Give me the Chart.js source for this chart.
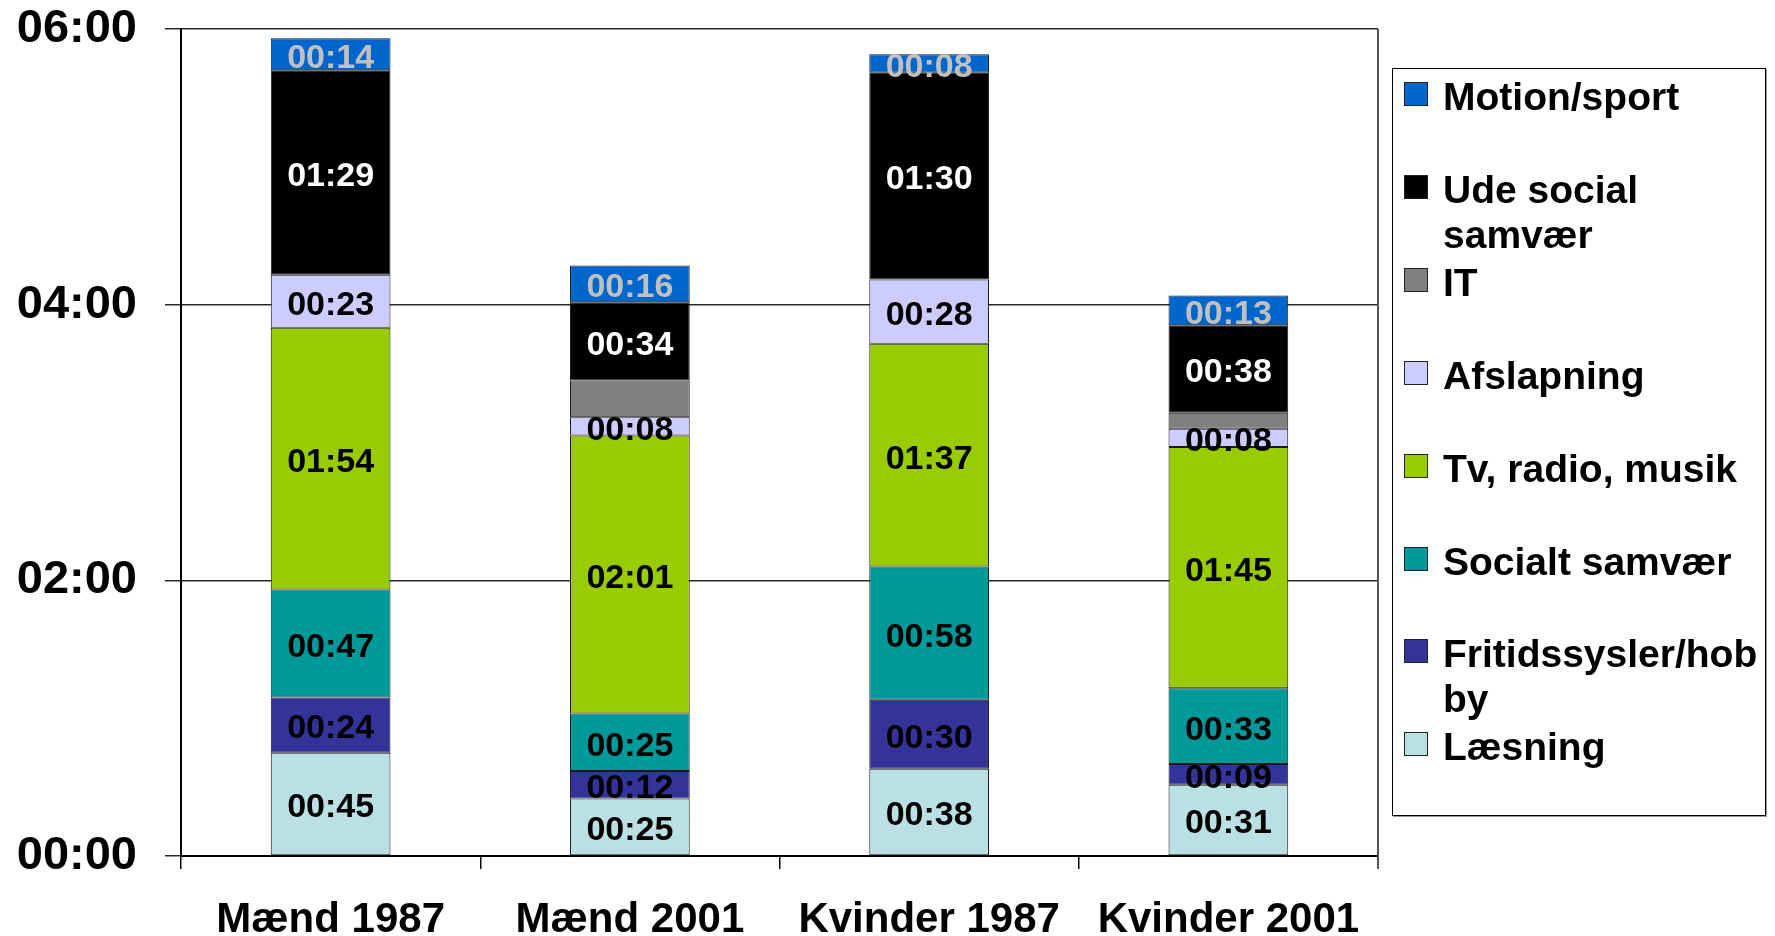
<!DOCTYPE html>
<html lang="da">
<head>
<meta charset="utf-8">
<title>Fritid</title>
<script src="https://cdn.jsdelivr.net/npm/chart.js@4.4.1/dist/chart.umd.min.js"></script>
<style>
    html, body { margin: 0; padding: 0; background: #fff; }
    #ramme { position: relative; width: 1775px; height: 936px; }
    #legende {
        position: absolute; left: 1392px; top: 68px; width: 372px; height: 746px;
        border: 1.5px solid #000; box-shadow: 1px 1px 0 #999;
        font: bold 39px "Liberation Sans", Arial, sans-serif; color: #000;
    }
    .punkt { position: absolute; left: 0; width: 100%; line-height: 45px; }
    .punkt i {
        position: absolute; left: 11px; top: 8px; width: 22px; height: 22px;
        border: 1.5px solid #222;
    }
    .punkt span { position: absolute; left: 50px; top: 0; white-space: nowrap; }
</style>
</head>
<body>
<div id="ramme">
    <canvas id="graficoFritid"></canvas>
    <div id="legende"></div>
</div>
<script>
// minutter pr. dag
const grupper = ['Mænd 1987', 'Mænd 2001', 'Kvinder 1987', 'Kvinder 2001']
const laesning = [45, 25, 38, 31]
const fritidssysler = [24, 12, 30, 9]
const socialtSamvaer = [47, 25, 58, 33]
const tvRadioMusik = [114, 121, 97, 105]
const afslapning = [23, 8, 28, 8]
const it = [0, 16, 0, 7]
const udeSocialSamvaer = [89, 34, 90, 38]
const motionSport = [14, 16, 8, 13]
const yTicks = [0, 120, 240, 360]

const skrift = '"Liberation Sans", Arial, sans-serif'
Chart.defaults.font.family = skrift
Chart.defaults.font.weight = 'bold'
Chart.defaults.color = '#000'

function tilTid(min) {
    let t = Math.floor(min / 60)
    let m = min % 60
    return String(t).padStart(2, '0') + ':' + String(m).padStart(2, '0')
}

function serie(navn, data, farve, tekstFarve, visEtiket = true) {
    return {
        label: navn,
        data: data,
        backgroundColor: farve,
        borderColor: '#1a1a1a',
        borderWidth: 1,
        borderSkipped: false,
        barPercentage: 0.4,
        categoryPercentage: 1,
        tekstFarve: tekstFarve,
        visEtiket: visEtiket
    }
}

const etiketter = {
    id: 'etiketter',
    afterDatasetsDraw(chart) {
        const ctx = chart.ctx
        ctx.save()
        ctx.font = 'bold 34px ' + skrift
        ctx.textAlign = 'center'
        ctx.textBaseline = 'middle'
        chart.data.datasets.forEach((ds, i) => {
            if (!ds.visEtiket) return
            chart.getDatasetMeta(i).data.forEach((bar, j) => {
                if (!ds.data[j]) return
                ctx.fillStyle = ds.tekstFarve
                ctx.fillText(tilTid(ds.data[j]), bar.x, (bar.y + bar.base) / 2 + 4)
            })
        })
        ctx.restore()
    }
}

// højre kant af plotområdet
const hoejreKant = {
    id: 'hoejreKant',
    afterDraw(chart) {
        const a = chart.chartArea
        const ctx = chart.ctx
        ctx.save()
        ctx.strokeStyle = '#555'
        ctx.lineWidth = 2
        ctx.beginPath()
        ctx.moveTo(a.right, a.top)
        ctx.lineTo(a.right, a.bottom + 13)
        ctx.stroke()
        ctx.restore()
    }
}

const graficoFritid = new Chart(document.getElementById('graficoFritid'), {
    type: 'bar',
    data: {
        labels: grupper,
        datasets: [
            serie('Læsning', laesning, '#bbe0e3', '#000'),
            serie('Fritidssysler/hobby', fritidssysler, '#333399', '#000'),
            serie('Socialt samvær', socialtSamvaer, '#009999', '#000'),
            serie('Tv, radio, musik', tvRadioMusik, '#99cc00', '#000'),
            serie('Afslapning', afslapning, '#ccccff', '#000'),
            serie('IT', it, '#808080', '#000', false),
            serie('Ude social samvær', udeSocialSamvaer, '#000000', '#fff'),
            serie('Motion/sport', motionSport, '#0066cc', '#c0c0c0')
        ]
    },
    options: {
        responsive: true,
        maintainAspectRatio: false,
        animation: false,
        layout: { padding: { left: 0, right: 397, top: 0, bottom: 0 } },
        plugins: {
            legend: { display: false },
            tooltip: { enabled: false }
        },
        scales: {
            x: {
                stacked: true,
                afterFit: s => { s.height = 80 },
                grid: { offset: true, drawOnChartArea: false, tickLength: 13, color: '#000', lineWidth: 1.5 },
                border: { color: '#000', width: 2 },
                ticks: { font: { size: 42, weight: 'bold' }, padding: 26, color: '#000' }
            },
            y: {
                stacked: true,
                min: 0,
                max: 360,
                afterFit: s => {
                    s.width = 181
                    s.paddingTop = 29
                    s.paddingBottom = 0
                },
                afterBuildTicks: s => { s.ticks = yTicks.map(v => ({ value: v })) },
                grid: { color: '#2a2a2a', lineWidth: 1.5, tickLength: 16 },
                border: { color: '#000', width: 2 },
                ticks: {
                    font: { size: 47, weight: 'bold' },
                    padding: 28,
                    color: '#000',
                    callback: v => tilTid(v)
                }
            }
        }
    },
    plugins: [etiketter, hoejreKant]
})

// legende, omvendt rækkefølge, med ombrydning som i Excel
function ombryd(tekst, maks, ctx) {
    let linjer = []
    let linje = ''
    tekst.split(' ').forEach(ord => {
        let forsoeg = linje ? linje + ' ' + ord : ord
        if (ctx.measureText(forsoeg).width <= maks) { linje = forsoeg; return }
        if (linje) linjer.push(linje)
        linje = ''
        for (const tegn of ord) {
            if (ctx.measureText(linje + tegn).width > maks && linje) { linjer.push(linje); linje = '' }
            linje += tegn
        }
    })
    if (linje) linjer.push(linje)
    return linjer
}

const maaler = document.createElement('canvas').getContext('2d')
maaler.font = 'bold 39px ' + skrift
const legende = document.getElementById('legende')
graficoFritid.data.datasets.slice().reverse().forEach((ds, i) => {
    let punkt = document.createElement('div')
    punkt.className = 'punkt'
    punkt.style.top = (5 + i * 92.9) + 'px'
    let boks = document.createElement('i')
    boks.style.background = ds.backgroundColor
    let tekst = document.createElement('span')
    tekst.innerHTML = ombryd(ds.label, 332, maaler).join('<br>')
    punkt.appendChild(boks)
    punkt.appendChild(tekst)
    legende.appendChild(punkt)
})
</script>
</body>
</html>
